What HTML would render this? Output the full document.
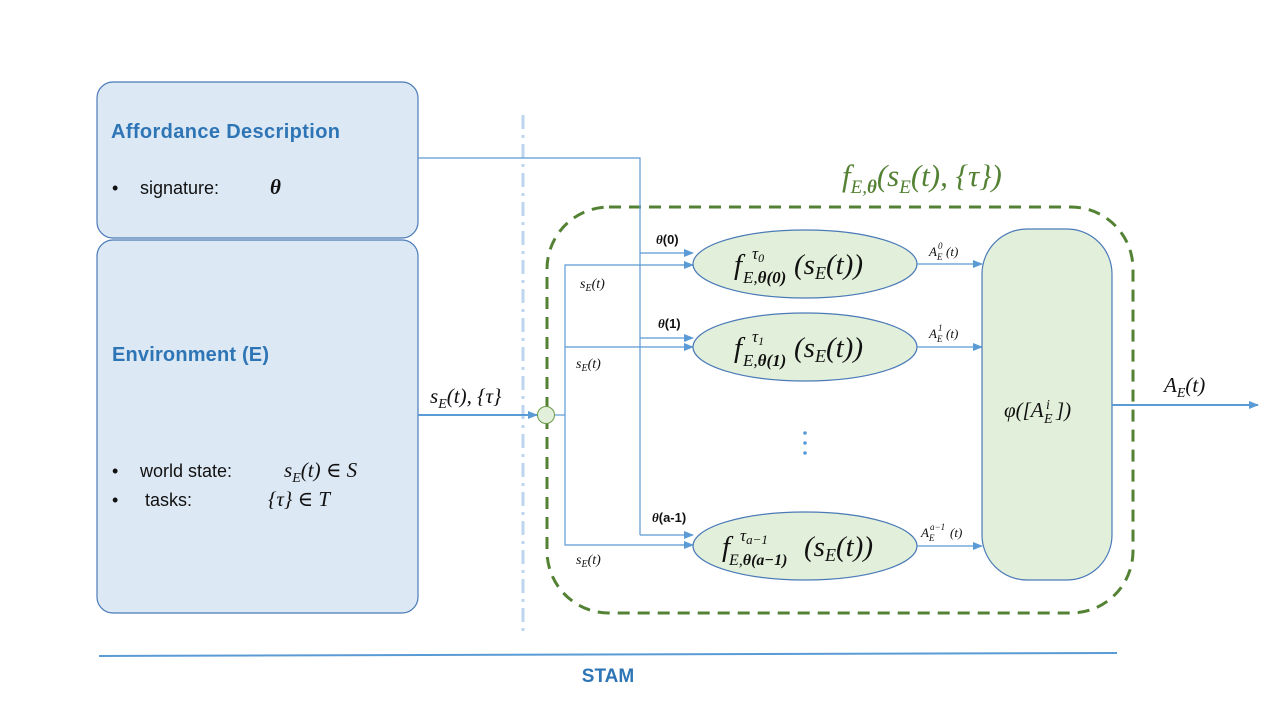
<!DOCTYPE html>
<html><head><meta charset="utf-8"><style>
html,body{margin:0;padding:0;background:#fff}
svg{display:block}
.m{font-family:"Liberation Serif","DejaVu Serif",serif;font-style:italic;fill:#111}
.s{font-family:"Liberation Sans",sans-serif}
</style></head><body>
<svg width="1280" height="720" viewBox="0 0 1280 720" xmlns="http://www.w3.org/2000/svg">
<defs>
<marker id="a" markerWidth="10" markerHeight="8" refX="9" refY="4" orient="auto" markerUnits="userSpaceOnUse">
<path d="M0,0 L10,4 L0,8 z" fill="#5b9bd5"/></marker>
</defs>
<rect width="1280" height="720" fill="#fff"/>
<rect x="97" y="82" width="321" height="156" rx="16" fill="#dde8f5" stroke="#4a7ab8" stroke-width="1.2"/>
<rect x="97" y="240" width="321" height="373" rx="16" fill="#dde8f5" stroke="#4a7ab8" stroke-width="1.2"/>
<text x="111" y="138" class="s" font-size="20" font-weight="bold" fill="#2e75b6" textLength="229">Affordance Description</text>
<text x="112" y="194" class="s" font-size="18" fill="#111">•</text>
<text x="140" y="194" class="s" font-size="18" fill="#111">signature:</text>
<text x="270" y="194" class="m" font-size="21" font-weight="bold">θ</text>
<text x="112" y="361" class="s" font-size="20" font-weight="bold" fill="#2e75b6" textLength="157">Environment (E)</text>
<text x="112" y="477" class="s" font-size="18" fill="#111">•</text>
<text x="140" y="477" class="s" font-size="18" fill="#111">world state:</text>
<text x="284" y="477" class="m" font-size="21">s<tspan font-size="14" dy="5">E</tspan><tspan dy="-5">(t) ∈ S</tspan></text>
<text x="112" y="506" class="s" font-size="18" fill="#111">•</text>
<text x="145" y="506" class="s" font-size="18" fill="#111">tasks:</text>
<text x="268" y="506" class="m" font-size="21">{τ} ∈ T</text>
<line x1="523" y1="115" x2="523" y2="632" stroke="#bdd5ee" stroke-width="3" stroke-dasharray="14,6,3,6"/>
<rect x="547" y="207" width="586" height="406" rx="62" fill="none" stroke="#548235" stroke-width="3" stroke-dasharray="12,8"/>
<text x="842" y="186" class="m" font-size="31" style="fill:#548235">f<tspan font-size="19" dy="7">E,<tspan font-weight="bold">θ</tspan></tspan><tspan dy="-7">(s</tspan><tspan font-size="19" dy="7">E</tspan><tspan dy="-7">(t), {τ})</tspan></text>
<polyline points="418,158 640,158 640,535" fill="none" stroke="#5b9bd5" stroke-width="1.2"/>
<line x1="640" y1="253" x2="693" y2="253" stroke="#5b9bd5" stroke-width="1.2" marker-end="url(#a)"/>
<line x1="640" y1="338" x2="693" y2="338" stroke="#5b9bd5" stroke-width="1.2" marker-end="url(#a)"/>
<line x1="640" y1="535" x2="693" y2="535" stroke="#5b9bd5" stroke-width="1.2" marker-end="url(#a)"/>
<line x1="418" y1="415" x2="537" y2="415" stroke="#5b9bd5" stroke-width="2" marker-end="url(#a)"/>
<text x="430" y="403" class="m" font-size="21">s<tspan font-size="14" dy="5">E</tspan><tspan dy="-5">(t), {τ}</tspan></text>
<circle cx="546" cy="415" r="8.5" fill="#e2efda" stroke="#6a9a4a" stroke-width="1"/>
<line x1="555" y1="415" x2="565" y2="415" stroke="#5b9bd5" stroke-width="1.2"/>
<polyline points="693,265 565,265 565,545 693,545" fill="none" stroke="#5b9bd5" stroke-width="1.2"/>
<line x1="565" y1="347" x2="693" y2="347" stroke="#5b9bd5" stroke-width="1.2" marker-end="url(#a)"/>
<line x1="680" y1="265" x2="693" y2="265" stroke="#5b9bd5" stroke-width="1.2" marker-end="url(#a)"/>
<line x1="680" y1="545" x2="693" y2="545" stroke="#5b9bd5" stroke-width="1.2" marker-end="url(#a)"/>
<text x="580" y="288" class="m" font-size="14">s<tspan font-size="10" dy="3">E</tspan><tspan dy="-3">(t)</tspan></text>
<text x="576" y="368" class="m" font-size="14">s<tspan font-size="10" dy="3">E</tspan><tspan dy="-3">(t)</tspan></text>
<text x="576" y="564" class="m" font-size="14">s<tspan font-size="10" dy="3">E</tspan><tspan dy="-3">(t)</tspan></text>
<text x="656" y="244" class="s" font-size="13" font-weight="bold" fill="#111"><tspan font-style="italic" font-family="Liberation Serif">θ</tspan>(0)</text>
<text x="658" y="328" class="s" font-size="13" font-weight="bold" fill="#111"><tspan font-style="italic" font-family="Liberation Serif">θ</tspan>(1)</text>
<text x="652" y="522" class="s" font-size="13" font-weight="bold" fill="#111"><tspan font-style="italic" font-family="Liberation Serif">θ</tspan>(a-1)</text>
<ellipse cx="805" cy="264" rx="112" ry="34" fill="#e2efda" stroke="#4a7ab8" stroke-width="1.2"/>
<ellipse cx="805" cy="347" rx="112" ry="34" fill="#e2efda" stroke="#4a7ab8" stroke-width="1.2"/>
<ellipse cx="805" cy="546" rx="112" ry="34" fill="#e2efda" stroke="#4a7ab8" stroke-width="1.2"/>
<text class="m" font-size="29"><tspan x="734" y="274">f</tspan><tspan x="752" y="259" font-size="17">τ<tspan font-size="12" dy="3">0</tspan></tspan><tspan x="743" y="283" font-size="17">E,<tspan font-weight="bold">θ(0)</tspan></tspan><tspan x="794" y="274">(s<tspan font-size="18" dy="5">E</tspan><tspan dy="-5">(t))</tspan></tspan></text>
<text class="m" font-size="29"><tspan x="734" y="357">f</tspan><tspan x="752" y="342" font-size="17">τ<tspan font-size="12" dy="3">1</tspan></tspan><tspan x="743" y="366" font-size="17">E,<tspan font-weight="bold">θ(1)</tspan></tspan><tspan x="794" y="357">(s<tspan font-size="18" dy="5">E</tspan><tspan dy="-5">(t))</tspan></tspan></text>
<text class="m" font-size="29"><tspan x="722" y="556">f</tspan><tspan x="740" y="541" font-size="17">τ<tspan font-size="13" dy="3">a−1</tspan></tspan><tspan x="729" y="565" font-size="16">E,<tspan font-weight="bold">θ(a−1)</tspan></tspan><tspan x="804" y="556">(s<tspan font-size="18" dy="5">E</tspan><tspan dy="-5">(t))</tspan></tspan></text>
<circle cx="805" cy="433" r="1.8" fill="#5b9bd5"/>
<circle cx="805" cy="443" r="1.8" fill="#5b9bd5"/>
<circle cx="805" cy="453" r="1.8" fill="#5b9bd5"/>
<line x1="917" y1="264" x2="982" y2="264" stroke="#5b9bd5" stroke-width="1.2" marker-end="url(#a)"/>
<line x1="917" y1="347" x2="982" y2="347" stroke="#5b9bd5" stroke-width="1.2" marker-end="url(#a)"/>
<line x1="917" y1="546" x2="982" y2="546" stroke="#5b9bd5" stroke-width="1.2" marker-end="url(#a)"/>
<text class="m" font-size="13"><tspan x="929" y="256">A</tspan><tspan x="938" y="249" font-size="9">0</tspan><tspan x="937" y="260" font-size="9">E</tspan><tspan x="946" y="256">(t)</tspan></text>
<text class="m" font-size="13"><tspan x="929" y="338">A</tspan><tspan x="938" y="331" font-size="9">1</tspan><tspan x="937" y="342" font-size="9">E</tspan><tspan x="946" y="338">(t)</tspan></text>
<text class="m" font-size="13"><tspan x="921" y="537">A</tspan><tspan x="930" y="530" font-size="9">a−1</tspan><tspan x="929" y="541" font-size="9">E</tspan><tspan x="950" y="537">(t)</tspan></text>
<rect x="982" y="229" width="130" height="351" rx="45" fill="#e2efda" stroke="#4a7ab8" stroke-width="1.2"/>
<text class="m" font-size="21"><tspan x="1004" y="417">φ([A</tspan><tspan x="1046" y="409" font-size="14">i</tspan><tspan x="1044" y="423" font-size="14">E</tspan><tspan x="1056" y="417">])</tspan></text>
<line x1="1112" y1="405" x2="1258" y2="405" stroke="#5b9bd5" stroke-width="2" marker-end="url(#a)"/>
<text x="1164" y="392" class="m" font-size="21">A<tspan font-size="14" dy="5">E</tspan><tspan dy="-5">(t)</tspan></text>
<line x1="99" y1="656" x2="1117" y2="653" stroke="#5b9bd5" stroke-width="2"/>
<text x="608" y="682" class="s" font-size="19" font-weight="bold" fill="#2e75b6" text-anchor="middle">STAM</text>
</svg>
</body></html>
